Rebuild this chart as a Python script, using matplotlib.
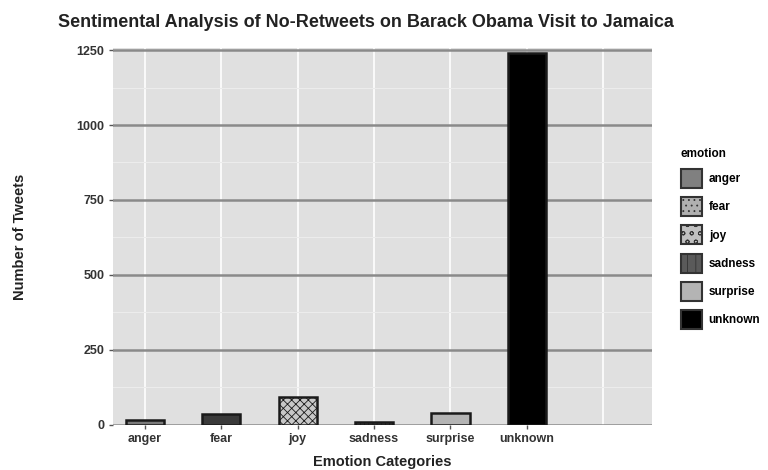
import matplotlib
matplotlib.use("Agg")
import matplotlib.pyplot as plt
from matplotlib.patches import Patch

plt.rcParams['font.family'] = ['Liberation Sans', 'DejaVu Sans']

emotions = ["anger", "fear", "joy", "sadness", "surprise", "unknown"]
counts = [16, 35, 92, 10, 40, 1240]
fills = ["#7a7a7a", "#3a3a3a", "#c8c8c8", "#4a4a4a", "#b4b4b4", "#000000"]
hatches = ["", "", "xxxx", "||||", "", ""]
legend_fills = ["#808080", "#b0b0b0", "#c0c0c0", "#5a5a5a", "#b4b4b4", "#000000"]
legend_hatches = ["", "...", "oo", "||", "", ""]
y_ticks = [0, 250, 500, 750, 1000, 1250]

fig = plt.figure(figsize=(7.68, 4.70), dpi=100)
ax = fig.add_axes([0.147, 0.096, 0.702, 0.802])
ax.set_facecolor("#e0e0e0")

x = list(range(len(emotions)))
plt.rcParams['hatch.color'] = '#333333'
plt.rcParams['hatch.linewidth'] = 0.6
for xi, c, f, h in zip(x, counts, fills, hatches):
    ax.bar(xi, c, width=0.5, color=f, edgecolor="#1a1a1a",
           linewidth=1.8, hatch=h if h else None, zorder=3)

ax.set_xlim(-0.42, 6.64)
ax.set_ylim(0, 1257)

# vertical white guides at every category slot
for xv in range(7):
    ax.axvline(xv, color="white", linewidth=1.2, zorder=1)
# minor light horizontal guides
for yv in [125, 375, 625, 875, 1125]:
    ax.axhline(yv, color="#ececec", linewidth=0.8, zorder=1)
# major dark horizontal guides
for yv in y_ticks:
    ax.axhline(yv, color="#8a8a8a", linewidth=1.8, zorder=2)

ax.set_xticks(x)
ax.set_xticklabels(emotions, fontsize=9, fontweight="bold", color="#333333")
ax.set_yticks(y_ticks)
ax.set_yticklabels([str(v) for v in y_ticks], fontsize=9, fontweight="bold",
                   color="#333333")
ax.tick_params(axis="both", length=3, width=1, color="#555555", pad=3)
for s in ax.spines.values():
    s.set_visible(False)

ax.set_xlabel("Emotion Categories", fontsize=10.5, fontweight="bold",
              color="#222222", labelpad=7)
ax.set_ylabel("Number of Tweets", fontsize=10.5, fontweight="bold",
              color="#222222", labelpad=36)
fig.text(0.477, 0.953, "Sentimental Analysis of No-Retweets on Barack Obama Visit to Jamaica",
         ha="center", va="center", fontsize=13, fontweight="bold", color="#222222")

handles = [Patch(facecolor=f, edgecolor="#333333", linewidth=1.5, hatch=h, label=e)
           for e, f, h in zip(emotions, legend_fills, legend_hatches)]
leg = fig.legend(handles=handles, title="emotion", loc="upper left",
                 bbox_to_anchor=(0.879, 0.698), frameon=False,
                 prop={"size": 8.5, "weight": "bold"},
                 title_fontproperties={"size": 8.5, "weight": "bold"},
                 handlelength=1.75, handleheight=2.1, labelspacing=0.78,
                 handletextpad=0.6, borderpad=0)
leg._legend_box.align = "left"

fig.savefig("out.png", dpi=100)
